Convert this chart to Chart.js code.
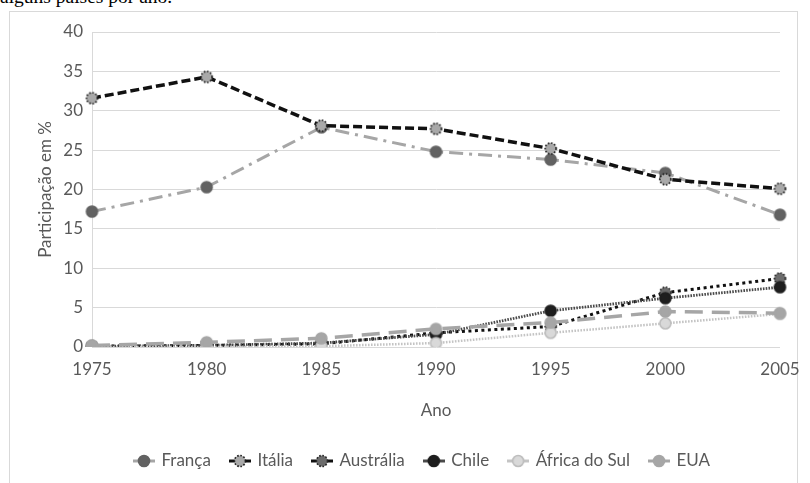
<!DOCTYPE html>
<html lang="pt">
<head>
<meta charset="utf-8">
<script src="https://cdn.jsdelivr.net/npm/chart.js@4.4.1/dist/chart.umd.min.js"></script>
<style>
  html, body { margin: 0; padding: 0; background: #ffffff; }
  body { width: 810px; height: 483px; position: relative; overflow: hidden; }
  #frame {
    position: absolute; left: 9px; top: 11px; width: 789px; height: 480px;
    border: 1px solid #d9d9d9; box-sizing: border-box;
  }
  #caption {
    position: absolute; left: 0px; top: -13px; margin: 0;
    font-family: "Liberation Serif", "Times New Roman", serif;
    font-size: 19.5px; line-height: 20px; color: #000;
    white-space: nowrap;
  }
  #wrap { position: absolute; left: 0; top: 0; width: 810px; height: 483px; }
</style>
</head>
<body>
<div id="frame"></div>
<div id="caption">alguns países por ano.</div>
<div id="wrap"><canvas id="chart" width="810" height="483"></canvas></div>
<script>
// Years on the horizontal axis
const anos = ['1975', '1980', '1985', '1990', '1995', '2000', '2005'];

// Share (%) per country and year
const franca      = [17.2, 20.3, 27.9, 24.8, 23.8, 22.1, 16.8];
const italia      = [31.6, 34.3, 28.1, 27.7, 25.2, 21.3, 20.1];
const australia   = [0.1, 0.2, 0.4, 1.8, 2.6, 6.9, 8.7];
const chile       = [0.1, 0.2, 0.5, 1.6, 4.6, 6.2, 7.6];
const africaDoSul = [0.0, 0.0, 0.1, 0.5, 1.8, 3.0, 4.2];
const eua         = [0.2, 0.6, 1.1, 2.3, 3.1, 4.5, 4.3];

// Vertical axis range
const yMin = 0, yMax = 40, yStep = 5;

const FONT = 'Lato, "Open Sans", "Liberation Sans", sans-serif';
const TEXT = '#595959';

// Round marker drawn on a small canvas, with an optional dotted rim
function marker(fill, rim, dotted, r) {
  r = r || 5.5;
  const c = document.createElement('canvas');
  const s = Math.ceil(r * 2 + 4);
  c.width = s; c.height = s;
  const g = c.getContext('2d');
  g.beginPath();
  g.arc(s / 2, s / 2, r, 0, Math.PI * 2);
  g.fillStyle = fill;
  g.fill();
  g.lineWidth = 1.6;
  g.strokeStyle = rim;
  if (dotted) g.setLineDash([1.6, 1.6]);
  g.stroke();
  return c;
}

// Legend icon: short line stub with the marker in the middle
function legendIcon(lineColor, fill, rim, dotted) {
  const c = document.createElement('canvas');
  c.width = 22; c.height = 14;
  const g = c.getContext('2d');
  g.strokeStyle = lineColor;
  g.lineWidth = 3;
  g.beginPath(); g.moveTo(0, 7); g.lineTo(22, 7); g.stroke();
  g.beginPath();
  g.arc(11, 7, 5.5, 0, Math.PI * 2);
  g.fillStyle = fill; g.fill();
  g.lineWidth = 1.6; g.strokeStyle = rim;
  if (dotted) g.setLineDash([1.6, 1.6]);
  g.stroke();
  return c;
}

const series = [
  { label: 'França', data: franca, line: '#a6a6a6', width: 3, dash: [14, 6, 3, 6],
    fill: '#626262', rim: '#626262', dotted: false },
  { label: 'Itália', data: italia, line: '#111111', width: 3.5, dash: [9, 4],
    fill: '#a9a9a9', rim: '#1a1a1a', dotted: true },
  { label: 'Austrália', data: australia, line: '#111111', width: 3, dash: [3, 3.5],
    fill: '#6c6c6c', rim: '#262626', dotted: true },
  { label: 'Chile', data: chile, line: '#4a4a4a', width: 2.8, dash: [1.6, 1.2],
    fill: '#1e1e1e', rim: '#1e1e1e', dotted: false },
  { label: 'África do Sul', data: africaDoSul, line: '#c4c4c4', width: 2.5, dash: [1.6, 1.4],
    fill: '#d9d9d9', rim: '#bdbdbd', dotted: false },
  { label: 'EUA', data: eua, line: '#a6a6a6', width: 3.5, dash: [18, 9],
    fill: '#a6a6a6', rim: '#a6a6a6', dotted: false }
];

const datasets = series.map((s, i) => ({
  label: s.label,
  data: s.data,
  borderColor: s.line,
  backgroundColor: s.fill,
  borderWidth: s.width,
  borderDash: s.dash,
  borderCapStyle: 'butt',
  tension: 0,
  fill: false,
  pointStyle: marker(s.fill, s.rim, s.dotted),
  pointRadius: 5.5,
  pointHoverRadius: 5.5,
  order: series.length - i
}));

new Chart(document.getElementById('chart'), {
  type: 'line',
  data: { labels: anos, datasets: datasets },
  options: {
    responsive: false,
    animation: false,
    events: [],
    layout: { padding: { left: 35, right: 0, top: 32, bottom: 3.5 } },
    plugins: {
      tooltip: { enabled: false },
      legend: {
        position: 'bottom',
        labels: {
          usePointStyle: true,
          pointStyleWidth: 18,
          padding: 20,
          color: TEXT,
          font: { family: FONT, size: 17 },
          generateLabels: () => series.map((s, i) => ({
            text: s.label,
            fillStyle: s.fill,
            strokeStyle: s.rim,
            lineWidth: 0,
            pointStyle: legendIcon(s.line, s.fill, s.rim, s.dotted),
            fontColor: TEXT,
            hidden: false,
            datasetIndex: i
          }))
        }
      }
    },
    scales: {
      x: {
        type: 'category',
        offset: false,
        grid: { display: false, drawTicks: false },
        border: { display: false },
        ticks: { color: TEXT, font: { family: FONT, size: 17 }, padding: 12, maxRotation: 0 },
        title: {
          display: true, text: 'Ano', color: TEXT,
          font: { family: FONT, size: 17 }, padding: { top: 0, bottom: 12 }
        },
        afterFit: (sc) => { sc.height = 85.5; sc.paddingRight = 30; sc.paddingLeft = 0; }
      },
      y: {
        min: yMin, max: yMax,
        ticks: { stepSize: yStep, color: TEXT, font: { family: FONT, size: 17 }, padding: 9 },
        grid: { color: '#d9d9d9', lineWidth: 1, drawTicks: false },
        border: { display: true, color: '#d9d9d9', width: 1 },
        title: {
          display: true, text: 'Participação em %', color: TEXT,
          font: { family: FONT, size: 17 }, padding: { top: 0, bottom: 0 }
        },
        afterFit: (sc) => { sc.width = 57; }
      }
    }
  }
});
</script>
</body>
</html>
